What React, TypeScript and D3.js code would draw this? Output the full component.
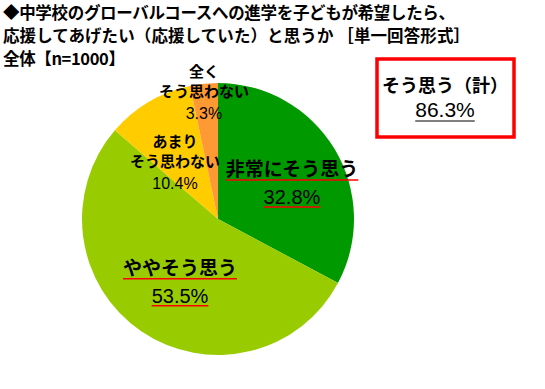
import React, { useEffect, useRef } from 'react';
import * as d3 from 'd3';

// chart data
const categories = ['非常にそう思う', 'ややそう思う', 'あまりそう思わない', '全くそう思わない'];
const labelLines = [['非常にそう思う'], ['ややそう思う'], ['あまり', 'そう思わない'], ['全く', 'そう思わない']];
const values = [32.8, 53.5, 10.4, 3.3];
const colors = ['#009900', '#99CC00', '#FFCC00', '#FF9933'];

const titleLines = [
  '◆中学校のグローバルコースへの進学を子どもが希望したら、',
  '応援してあげたい（応援していた）と思うか ［単一回答形式］',
  '全体【n=1000】',
];
const titleWidths = [452, 467, 122];

const totalLabel = 'そう思う（計）';
const totalValue = 86.3;

const width = 545;
const height = 389;
const JP = '"Noto Sans CJK JP", "Noto Sans", sans-serif';
const NUM = '"Liberation Sans", Arial, sans-serif';

const App = () => {
  const svgRef = useRef<SVGSVGElement>(null);

  useEffect(() => {
    const svg = d3.select(svgRef.current);
    svg.selectAll('*').remove();

    // title
    svg
      .append('g')
      .selectAll('text')
      .data(titleLines)
      .enter()
      .append('text')
      .attr('x', 3)
      .attr('y', (d, i) => 19 + i * 23)
      .attr('textLength', (d, i) => titleWidths[i])
      .attr('lengthAdjust', 'spacing')
      .style('font-family', JP)
      .style('font-weight', 'bold')
      .style('font-size', '16.5px')
      .style('fill', '#000')
      .text((d) => d);

    // pie
    const cx = 218;
    const cy = 219;
    const radius = 136;

    const data = categories.map((c, i) => ({ label: c, value: values[i], index: i }));
    const pie = d3.pie<any>().sort(null).value((d) => d.value);
    const arc = d3.arc<any>().innerRadius(0).outerRadius(radius);

    const g = svg.append('g').attr('transform', `translate(${cx}, ${cy})`);
    const arcs = pie(data);

    g.selectAll('path')
      .data(arcs)
      .enter()
      .append('path')
      .attr('d', arc)
      .style('fill', (d, i) => colors[i]);

    // labels: where each block sits (radius as part of r, then small nudge)
    const place = [
      { rf: 0.6, dx: 4, dy: 8 },
      { rf: 0.56, dx: 5, dy: 2 },
      { rf: 0.52, dx: -7, dy: 4 },
      { rf: 0.93, dx: -1, dy: -1 },
    ];

    arcs.forEach((a, i) => {
      const p = place[i];
      const lr = radius * p.rf;
      const [lx, ly] = d3.arc<any>().innerRadius(lr).outerRadius(lr).centroid(a);
      const x = lx + p.dx;
      const y = ly + p.dy;
      const big = i < 2;
      const lines = labelLines[i];

      const block = g.append('g').attr('transform', `translate(${x}, ${y})`);
      const names = big ? [-9] : [-15, 5];
      const valueY = big ? 19 : 27;

      lines.forEach((ln, k) => {
        const t = block
          .append('text')
          .attr('y', names[k])
          .attr('text-anchor', 'middle')
          .style('font-family', JP)
          .style('font-weight', 'bold')
          .style('font-size', big ? '19px' : '15px')
          .style('fill', '#000')
          .text(ln);
        if (big) {
          const w = (t.node() as SVGTextElement).getComputedTextLength();
          block
            .append('line')
            .attr('x1', -w / 2)
            .attr('x2', w / 2)
            .attr('y1', names[k] + 4)
            .attr('y2', names[k] + 4)
            .style('stroke', '#FF0000')
            .style('stroke-width', 1.5);
        }
      });

      const v = block
        .append('text')
        .attr('y', valueY)
        .attr('text-anchor', 'middle')
        .style('font-family', NUM)
        .style('font-size', big ? '20px' : '16px')
        .style('fill', '#000')
        .text(`${values[i].toFixed(1)}%`);
      if (big) {
        const w = (v.node() as SVGTextElement).getComputedTextLength();
        block
          .append('line')
          .attr('x1', -w / 2)
          .attr('x2', w / 2)
          .attr('y1', valueY + 3)
          .attr('y2', valueY + 3)
          .style('stroke', '#FF0000')
          .style('stroke-width', 1.5);
      }
    });

    // total box
    const box = svg.append('g').attr('transform', 'translate(377, 59)');
    box
      .append('rect')
      .attr('width', 137)
      .attr('height', 78)
      .style('fill', '#fff')
      .style('stroke', '#FF0000')
      .style('stroke-width', 3.5);
    box
      .append('text')
      .attr('x', 68)
      .attr('y', 33)
      .attr('text-anchor', 'middle')
      .style('font-family', JP)
      .style('font-weight', 'bold')
      .style('font-size', '18px')
      .text(totalLabel);
    const tv = box
      .append('text')
      .attr('x', 68)
      .attr('y', 58)
      .attr('text-anchor', 'middle')
      .style('font-family', NUM)
      .style('font-size', '21px')
      .text(`${totalValue.toFixed(1)}%`);
    const tw = (tv.node() as SVGTextElement).getComputedTextLength();
    box
      .append('line')
      .attr('x1', 68 - tw / 2)
      .attr('x2', 68 + tw / 2)
      .attr('y1', 62)
      .attr('y2', 62)
      .style('stroke', '#000')
      .style('stroke-width', 1.2);
  }, []);

  return (
    <svg
      ref={svgRef}
      width={width}
      height={height}
      style={{ position: 'absolute', left: 0, top: 0, background: '#fff' }}
    ></svg>
  );
};

export default App;
